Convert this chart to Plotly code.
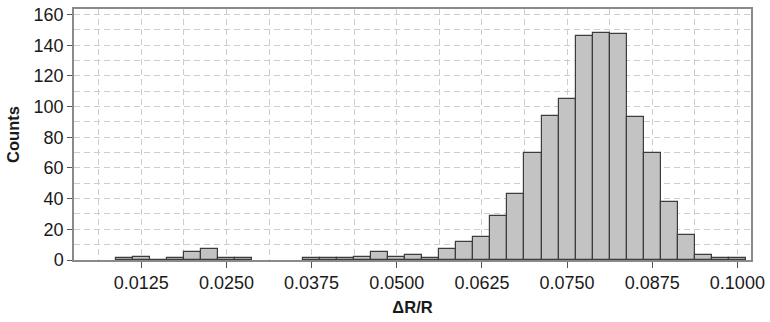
import plotly.graph_objects as go

# Histogram of dR/R: bin centres (bin width 0.0025) and counts per bin
bin_centers = [
    0.0100, 0.0125, 0.0150, 0.0175, 0.0200, 0.0225, 0.0250, 0.0275,
    0.0375, 0.0400, 0.0425, 0.0450, 0.0475, 0.0500, 0.0525, 0.0550,
    0.0575, 0.0600, 0.0625, 0.0650, 0.0675, 0.0700, 0.0725, 0.0750,
    0.0775, 0.0800, 0.0825, 0.0850, 0.0875, 0.0900, 0.0925, 0.0950,
    0.0975, 0.1000,
]
counts = [
    1, 2, 0, 1, 5, 7, 1, 1,
    1, 1, 1, 2, 5, 2, 3, 1,
    7, 12, 15, 29, 43, 70, 94, 105,
    146, 148, 147, 93, 70, 38, 16, 3,
    1, 1,
]
bin_width = 0.0025

x_tick_vals = [0.0125, 0.0250, 0.0375, 0.0500, 0.0625, 0.0750, 0.0875, 0.1000]
x_tick_text = ["0.0125", "0.0250", "0.0375", "0.0500", "0.0625", "0.0750", "0.0875", "0.1000"]
y_tick_vals = [0, 20, 40, 60, 80, 100, 120, 140, 160]

FONT = "Liberation Sans, Arial, sans-serif"
GRID = "#cdcdcd"
DASH = "6px,4px"

fig = go.Figure(
    go.Bar(
        x=bin_centers,
        y=counts,
        width=[bin_width] * len(bin_centers),
        marker=dict(color="#c3c3c3", line=dict(color="#3c3c3c", width=1.2)),
        showlegend=False,
    )
)

fig.update_layout(
    width=770,
    height=322,
    margin=dict(l=74, r=16, t=5, b=62),
    paper_bgcolor="white",
    plot_bgcolor="white",
    font=dict(family=FONT, size=18, color="#1a1a1a"),
    bargap=0,
)

fig.update_xaxes(
    range=[0.00262, 0.10200],
    tickvals=x_tick_vals,
    ticktext=x_tick_text,
    ticks="outside",
    ticklen=6,
    tickcolor="#555555",
    showline=True,
    linecolor="#8a8a8a",
    linewidth=1.5,
    mirror=True,
    showgrid=True,
    gridcolor=GRID,
    griddash=DASH,
    gridwidth=1,
    minor=dict(dtick=0.00625, tick0=0, showgrid=True, gridcolor=GRID, griddash=DASH, gridwidth=1),
    zeroline=False,
    title=dict(text="<b>ΔR/R</b>", font=dict(family=FONT, size=16.5), standoff=9),
)

fig.update_yaxes(
    range=[0, 163.6],
    tickvals=y_tick_vals,
    ticks="outside",
    ticklen=5,
    tickcolor="#555555",
    showline=True,
    linecolor="#8a8a8a",
    linewidth=1.5,
    mirror=True,
    showgrid=True,
    gridcolor=GRID,
    griddash=DASH,
    gridwidth=1,
    minor=dict(dtick=10, tick0=0, showgrid=True, gridcolor=GRID, griddash=DASH, gridwidth=1),
    zeroline=False,
    title=dict(text="<b>Counts</b>", font=dict(family=FONT, size=16.5), standoff=10),
)

fig.write_html("out.html")
